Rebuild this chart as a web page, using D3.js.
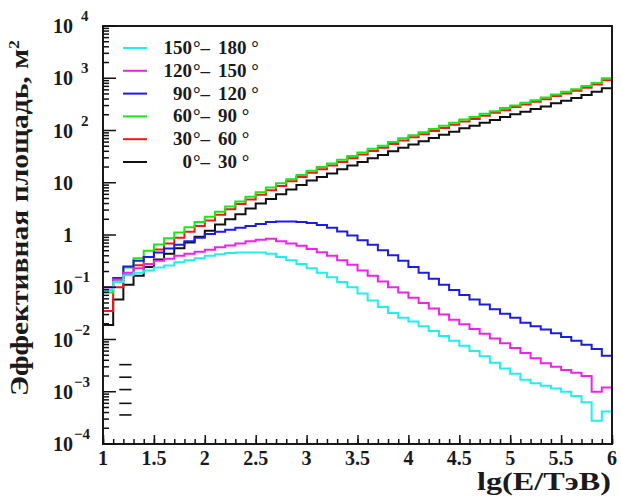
<!DOCTYPE html>
<html>
<head>
<meta charset="utf-8">
<script src="https://cdn.jsdelivr.net/npm/d3@7"></script>
<style>
  body { margin: 0; background: #fff; }
  text { font-family: "Liberation Serif", "DejaVu Serif", serif; font-weight: bold; fill: #1a1a1a; }
</style>
</head>
<body>
<div class="svg-container"></div>
<script>
// bin edges of lg(E/TeV), 0.1 wide
var lgEdges = [1.0, 1.1, 1.2, 1.3, 1.4, 1.5, 1.6, 1.7, 1.8, 1.9,
               2.0, 2.1, 2.2, 2.3, 2.4, 2.5, 2.6, 2.7, 2.8, 2.9,
               3.0, 3.1, 3.2, 3.3, 3.4, 3.5, 3.6, 3.7, 3.8, 3.9,
               4.0, 4.1, 4.2, 4.3, 4.4, 4.5, 4.6, 4.7, 4.8, 4.9,
               5.0, 5.1, 5.2, 5.3, 5.4, 5.5, 5.6, 5.7, 5.8, 5.9, 6.0];

// effective area, m^2, one value per bin
var area0to30 = [0.019, 0.058, 0.112, 0.166, 0.245, 0.34, 0.44, 0.56, 0.72, 0.93,
                 1.2, 1.58, 2.0, 2.5, 3.2, 4.0, 4.9, 6.0, 7.4, 9.1,
                 11, 12.9, 15.1, 18.2, 21.4, 25, 29.5, 34, 40, 47,
                 54, 62, 72, 83, 95, 110, 123, 141, 158, 182,
                 204, 229, 257, 288, 331, 372, 417, 479, 550, 646];
var area30to60 = [0.035, 0.10, 0.174, 0.263, 0.38, 0.525, 0.69, 0.89, 1.15, 1.48,
                  1.9, 2.45, 3.1, 3.9, 4.8, 5.9, 7.2, 8.7, 10.7, 12.9,
                  15.5, 18.2, 21.4, 25, 29.5, 34.7, 40.7, 46.8, 55, 64.6,
                  74, 85, 98, 112, 129, 148, 166, 191, 219, 245,
                  282, 316, 355, 398, 457, 513, 575, 661, 759, 912];
var area60to90 = [0.079, 0.13, 0.24, 0.36, 0.5, 0.66, 0.87, 1.12, 1.41, 1.78,
                  2.24, 2.8, 3.5, 4.4, 5.4, 6.6, 8.1, 9.8, 11.7, 14.1,
                  17, 20, 23.4, 27.5, 32.4, 38, 44.7, 51, 60, 71,
                  81, 93, 107, 123, 141, 162, 182, 209, 234, 269,
                  302, 339, 380, 427, 490, 550, 617, 708, 813, 1000];
var area90to120 = [0.1, 0.15, 0.25, 0.32, 0.38, 0.46, 0.55, 0.65, 0.76, 0.89,
                   1.05, 1.15, 1.26, 1.38, 1.48, 1.62, 1.78, 1.82, 1.82, 1.78,
                   1.70, 1.55, 1.38, 1.17, 0.98, 0.79, 0.65, 0.51, 0.41, 0.32,
                   0.245, 0.19, 0.145, 0.112, 0.089, 0.071, 0.058, 0.047, 0.038, 0.031,
                   0.026, 0.021, 0.018, 0.0155, 0.0132, 0.0112, 0.0095, 0.0079, 0.0066, 0.0049];
var area120to150 = [0.1, 0.14, 0.19, 0.23, 0.28, 0.32, 0.35, 0.4, 0.44, 0.48,
                    0.52, 0.58, 0.63, 0.69, 0.76, 0.81, 0.85, 0.76, 0.69, 0.62,
                    0.54, 0.47, 0.4, 0.33, 0.27, 0.21, 0.166, 0.129, 0.1, 0.079,
                    0.063, 0.05, 0.039, 0.03, 0.024, 0.0195, 0.0158, 0.0129, 0.0105, 0.0085,
                    0.0069, 0.0055, 0.0044, 0.0035, 0.003, 0.0026, 0.0023, 0.002, 0.001, 0.0012];
var area150to180 = [0.089, 0.126, 0.17, 0.19, 0.21, 0.24, 0.26, 0.3, 0.33, 0.36,
                    0.4, 0.43, 0.45, 0.46, 0.46, 0.46, 0.44, 0.38, 0.33, 0.28,
                    0.23, 0.19, 0.155, 0.126, 0.1, 0.076, 0.056, 0.042, 0.032, 0.026,
                    0.022, 0.018, 0.0145, 0.0117, 0.0095, 0.0076, 0.006, 0.0048, 0.0036, 0.0028,
                    0.0022, 0.0017, 0.00145, 0.0013, 0.00115, 0.001, 0.00083, 0.00063, 0.00028, 0.00042];

// legend rows, top to bottom
var legendFrom = ["150", "120", "90", "60", "30", "0"];
var legendTo = ["180", "150", "120", "90", "60", "30"];

var xTickValues = [1, 1.5, 2, 2.5, 3, 3.5, 4, 4.5, 5, 5.5, 6];
var xTickLabels = ["1", "1.5", "2", "2.5", "3", "3.5", "4", "4.5", "5", "5.5", "6"];
var yDecades = [-4, -3, -2, -1, 0, 1, 2, 3, 4];

// leftover short dashes below the curves
var dashLevels = [0.0033, 0.0019, 0.0011, 0.0006, 0.00036];

var width = 621, height = 496;
var plot = { left: 103, right: 612, top: 26, bottom: 444 };

var svg = d3.select(".svg-container")
  .append("svg")
    .attr("width", width)
    .attr("height", height);

var x = d3.scaleLinear().domain([1, 6]).range([plot.left, plot.right]);
var y = d3.scaleLog().domain([1e-4, 1e4]).range([plot.bottom, plot.top]);

// series config: drawn back to front
var seriesList = [
  { values: area0to30, color: "#111111" },
  { values: area30to60, color: "#f21818" },
  { values: area60to90, color: "#18e818" },
  { values: area90to120, color: "#1c1ce6" },
  { values: area120to150, color: "#ee22ee" },
  { values: area150to180, color: "#22eeee" }
];
var legendColors = ["#22eeee", "#ee22ee", "#1c1ce6", "#18e818", "#f21818", "#111111"];

var stepLine = d3.line()
  .x(function(d) { return x(d[0]); })
  .y(function(d) { return y(d[1]); })
  .curve(d3.curveStepAfter);

var lines = svg.append("g").attr("class", "series");
seriesList.forEach(function(s) {
  var pts = s.values.map(function(v, i) { return [lgEdges[i], v]; });
  pts.push([lgEdges[lgEdges.length - 1], s.values[s.values.length - 1]]);
  lines.append("path")
    .attr("d", stepLine(pts))
    .attr("fill", "none")
    .attr("stroke", s.color)
    .attr("stroke-width", 2);
});

// dashes
svg.append("g").selectAll("line")
  .data(dashLevels)
  .enter().append("line")
    .attr("x1", x(1.16)).attr("x2", x(1.28))
    .attr("y1", function(d) { return y(d); })
    .attr("y2", function(d) { return y(d); })
    .attr("stroke", "#111").attr("stroke-width", 1.6);

// frame
svg.append("rect")
  .attr("x", plot.left).attr("y", plot.top)
  .attr("width", plot.right - plot.left).attr("height", plot.bottom - plot.top)
  .attr("fill", "none").attr("stroke", "#1a1a1a").attr("stroke-width", 2);

// y ticks (inside, log minor ticks)
var yTicks = svg.append("g").attr("class", "y-ticks");
y.ticks(80).forEach(function(t) {
  var lead = Math.round(t / Math.pow(10, Math.floor(Math.log10(t) + 1e-9)));
  var len = lead === 1 ? 13 : 6;
  yTicks.append("line")
    .attr("x1", plot.left).attr("x2", plot.left + len)
    .attr("y1", y(t)).attr("y2", y(t))
    .attr("stroke", "#111").attr("stroke-width", 1.5);
});

// x ticks (inside, pointing up)
var xMinor = d3.axisTop(x).tickValues(lgEdges).tickSize(5).tickFormat("").tickSizeOuter(0);
var xMajor = d3.axisTop(x).tickValues(xTickValues).tickSize(9).tickFormat("").tickSizeOuter(0);
[xMinor, xMajor].forEach(function(ax) {
  var g = svg.append("g")
    .attr("transform", "translate(0," + plot.bottom + ")")
    .call(ax);
  g.select(".domain").remove();
  g.selectAll("line").attr("stroke", "#111").attr("stroke-width", 1.5);
});

// x tick labels
svg.append("g").selectAll("text")
  .data(xTickValues)
  .enter().append("text")
    .attr("x", function(d) { return x(d); })
    .attr("y", 465)
    .attr("text-anchor", "middle")
    .attr("font-size", 20)
    .text(function(d, i) { return xTickLabels[i]; });

// y tick labels
var yLabels = svg.append("g");
yDecades.forEach(function(p) {
  var ty = y(Math.pow(10, p));
  var base = (p === 0) ? "1" : "10";
  yLabels.append("text")
    .attr("x", 73).attr("y", ty + 7)
    .attr("text-anchor", "end")
    .attr("font-size", 20)
    .text(base);
  if (p !== 0 && p !== 1) {
    yLabels.append("text")
      .attr("x", p < 0 ? 74 : 81).attr("y", ty - 5)
      .attr("font-size", 15)
      .text(p < 0 ? "\u2212" + (-p) : String(p));
  }
});

// axis titles
var yTitle = svg.append("text")
  .attr("transform", "translate(28," + 396 + ") rotate(-90)")
  .attr("font-size", 25)
  .attr("textLength", 356)
  .attr("lengthAdjust", "spacingAndGlyphs");
yTitle.append("tspan").text("Эффективная площадь, м");
yTitle.append("tspan").attr("dy", -9).attr("font-size", 15).text("2");

svg.append("text")
  .attr("x", 477).attr("y", 490)
  .attr("font-size", 26)
  .attr("textLength", 134)
  .attr("lengthAdjust", "spacingAndGlyphs")
  .text("lg(E/ТэВ)");

// legend
var legend = svg.append("g").attr("class", "legend");
legendFrom.forEach(function(from, i) {
  var ly = 48 + i * 22.8;
  legend.append("line")
    .attr("x1", 123).attr("x2", 147)
    .attr("y1", ly).attr("y2", ly)
    .attr("stroke", legendColors[i]).attr("stroke-width", 2);
  legend.append("text")
    .attr("x", 192).attr("y", ly + 6)
    .attr("text-anchor", "end")
    .attr("font-size", 19)
    .text(from);
  legend.append("text")
    .attr("x", 193).attr("y", ly + 6)
    .attr("font-size", 19)
    .text("°\u2013");
  legend.append("text")
    .attr("x", 218).attr("y", ly + 6)
    .attr("font-size", 19)
    .text(legendTo[i] + " °");
});
</script>
</body>
</html>
